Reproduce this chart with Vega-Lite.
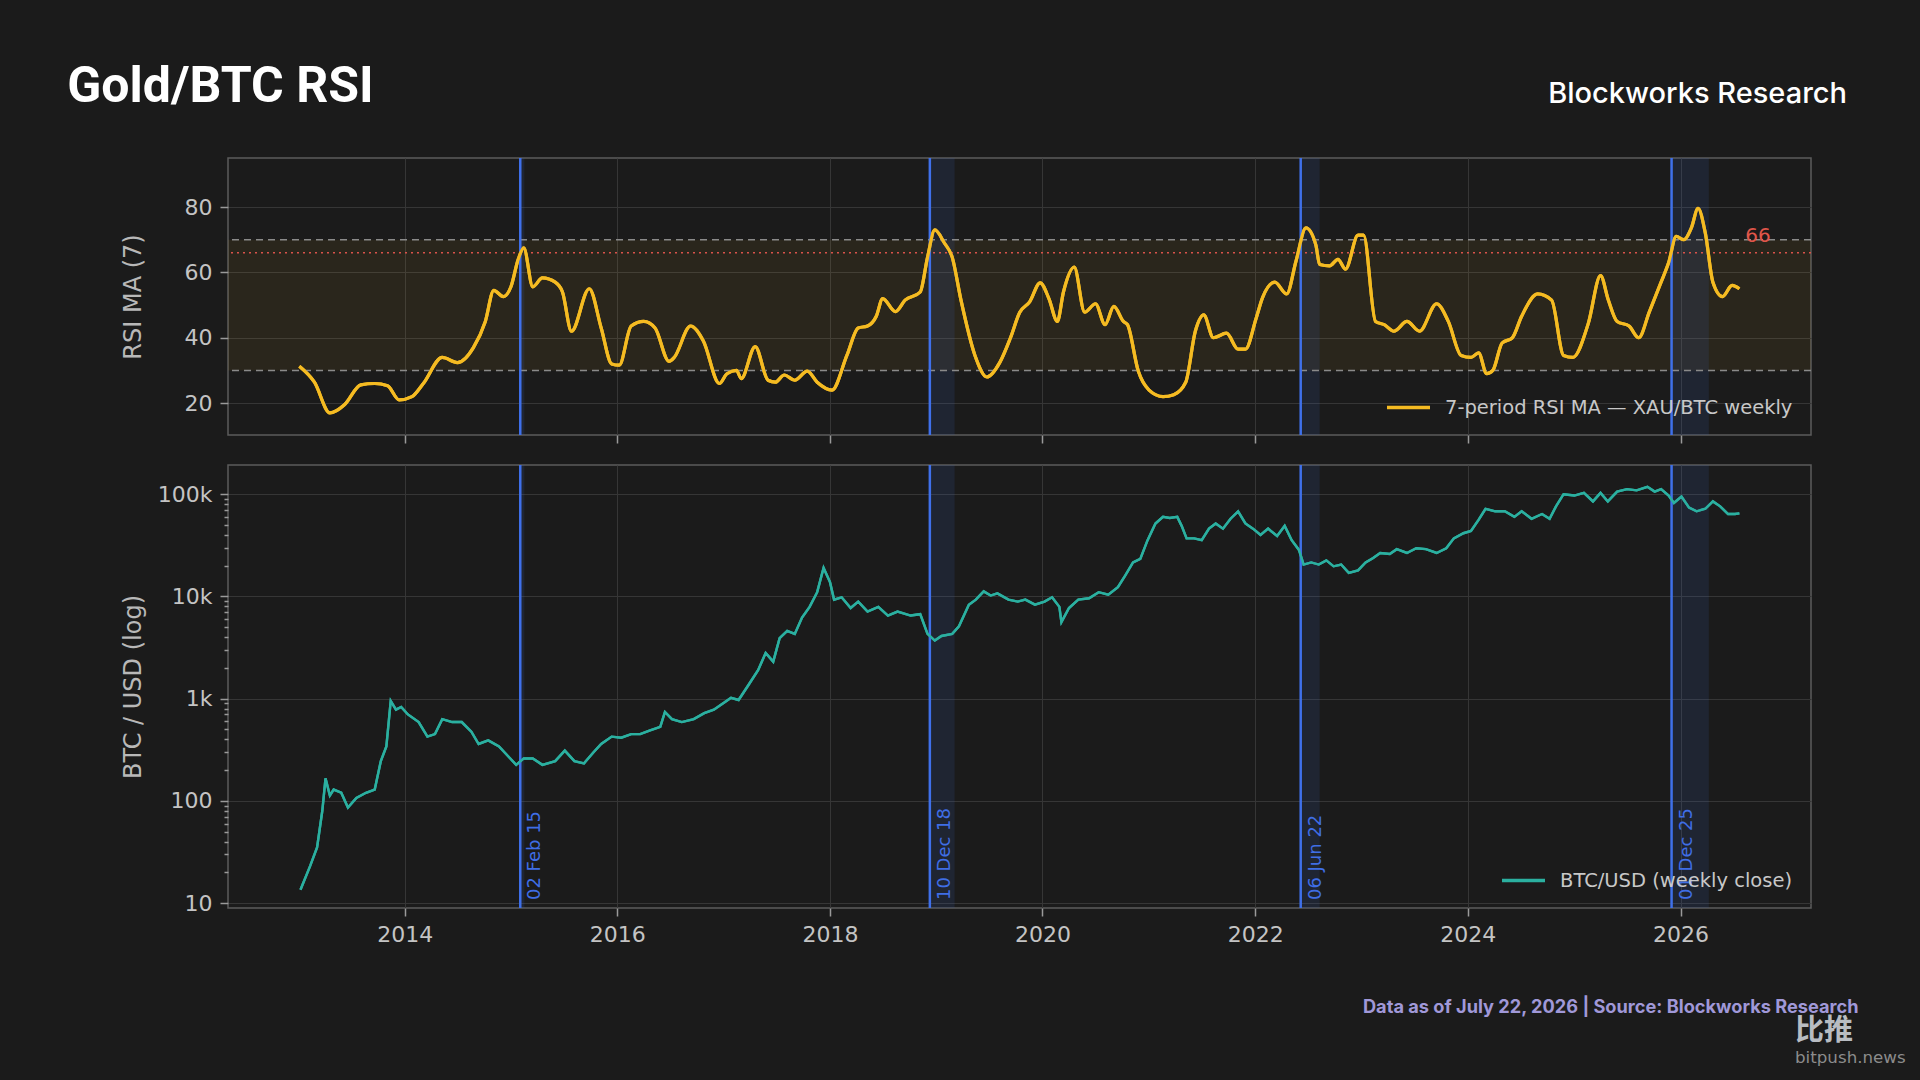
{
  "$schema": "https://vega.github.io/schema/vega-lite/v6.json",
  "background": "#1b1b1b",
  "padding": {"left": 67, "top": 62, "right": 18, "bottom": 15},
  "title": {
    "text": "Gold/BTC RSI",
    "anchor": "start",
    "font": "Roboto",
    "fontSize": 50,
    "fontWeight": "bold",
    "color": "#ffffff",
    "baseline": "alphabetic",
    "offset": 0,
    "dx": -53,
    "dy": 73
  },
  "config": {
    "view": {"stroke": "#5c5c5c", "strokeWidth": 1.5},
    "axis": {
      "labelFont": "DejaVu Sans",
      "labelFontSize": 22,
      "labelColor": "#c4c4c4",
      "titleFont": "DejaVu Sans",
      "titleFontSize": 24,
      "titleFontWeight": "normal",
      "titleColor": "#b8b8b8",
      "gridColor": "#363636",
      "gridWidth": 1,
      "tickColor": "#9a9a9a",
      "tickWidth": 1.5,
      "tickSize": 8,
      "domain": false,
      "labelPadding": 8
    },
    "axisY": {"minExtent": 70, "maxExtent": 70, "titlePadding": 13},
    "legend": {
      "orient": "bottom-right",
      "offset": 18,
      "padding": 0,
      "symbolType": "stroke",
      "symbolStrokeWidth": 3.5,
      "symbolSize": 1850,
      "labelFont": "DejaVu Sans",
      "labelFontSize": 19.5,
      "labelColor": "#c8c8c8",
      "labelOffset": 13,
      "labelLimit": 600,
      "title": null
    }
  },
  "datasets": {
    "events": [
      {"date": "2015-02-02", "end": "2015-02-16", "label": "02 Feb 15"},
      {"date": "2018-12-10", "end": "2019-03-05", "label": "10 Dec 18"},
      {"date": "2022-06-06", "end": "2022-08-10", "label": "06 Jun 22"},
      {"date": "2025-12-01", "end": "2026-04-08", "label": "01 Dec 25"}
    ],
    "rsi": [
      {"date": "2013-01-04", "rsi": 31.3}, {"date": "2013-02-25", "rsi": 26.4}, {"date": "2013-04-19", "rsi": 17.0},
      {"date": "2013-06-09", "rsi": 19.6}, {"date": "2013-08-03", "rsi": 25.6}, {"date": "2013-09-20", "rsi": 26.0},
      {"date": "2013-11-03", "rsi": 25.3}, {"date": "2013-12-13", "rsi": 21.0}, {"date": "2014-01-26", "rsi": 22.0},
      {"date": "2014-03-06", "rsi": 26.0}, {"date": "2014-05-10", "rsi": 34.0}, {"date": "2014-07-01", "rsi": 32.4},
      {"date": "2014-08-25", "rsi": 37.0}, {"date": "2014-10-05", "rsi": 45.0}, {"date": "2014-11-03", "rsi": 54.5},
      {"date": "2014-12-06", "rsi": 52.6}, {"date": "2015-01-01", "rsi": 55.6}, {"date": "2015-01-26", "rsi": 64.0},
      {"date": "2015-02-14", "rsi": 67.5}, {"date": "2015-03-17", "rsi": 55.6}, {"date": "2015-04-19", "rsi": 58.3},
      {"date": "2015-06-02", "rsi": 57.0}, {"date": "2015-06-27", "rsi": 54.0}, {"date": "2015-07-28", "rsi": 42.0},
      {"date": "2015-09-27", "rsi": 55.0}, {"date": "2015-11-07", "rsi": 43.0}, {"date": "2015-12-13", "rsi": 32.0},
      {"date": "2016-01-08", "rsi": 31.6}, {"date": "2016-02-18", "rsi": 43.6}, {"date": "2016-04-01", "rsi": 45.0},
      {"date": "2016-05-10", "rsi": 43.0}, {"date": "2016-06-27", "rsi": 32.8}, {"date": "2016-07-15", "rsi": 34.0},
      {"date": "2016-09-09", "rsi": 43.6}, {"date": "2016-10-23", "rsi": 39.0}, {"date": "2016-12-17", "rsi": 26.0},
      {"date": "2017-01-12", "rsi": 29.0}, {"date": "2017-02-14", "rsi": 30.0}, {"date": "2017-03-02", "rsi": 27.5},
      {"date": "2017-04-19", "rsi": 37.3}, {"date": "2017-06-02", "rsi": 27.0}, {"date": "2017-06-27", "rsi": 26.4},
      {"date": "2017-07-28", "rsi": 28.6}, {"date": "2017-09-02", "rsi": 27.0}, {"date": "2017-10-15", "rsi": 29.8},
      {"date": "2017-11-18", "rsi": 26.4}, {"date": "2018-01-08", "rsi": 24.0}, {"date": "2018-02-28", "rsi": 34.6},
      {"date": "2018-04-08", "rsi": 43.0}, {"date": "2018-05-10", "rsi": 43.6}, {"date": "2018-06-09", "rsi": 46.6},
      {"date": "2018-07-01", "rsi": 52.0}, {"date": "2018-08-14", "rsi": 48.0}, {"date": "2018-09-16", "rsi": 51.5},
      {"date": "2018-11-07", "rsi": 54.0}, {"date": "2018-12-02", "rsi": 64.6}, {"date": "2018-12-27", "rsi": 73.0},
      {"date": "2019-01-29", "rsi": 69.0}, {"date": "2019-02-25", "rsi": 64.6}, {"date": "2019-03-27", "rsi": 51.5},
      {"date": "2019-05-14", "rsi": 34.6}, {"date": "2019-06-24", "rsi": 28.0}, {"date": "2019-08-07", "rsi": 32.4},
      {"date": "2019-09-13", "rsi": 40.0}, {"date": "2019-10-15", "rsi": 47.8}, {"date": "2019-11-18", "rsi": 51.0},
      {"date": "2019-12-24", "rsi": 56.8}, {"date": "2020-01-23", "rsi": 52.0}, {"date": "2020-02-21", "rsi": 45.0},
      {"date": "2020-03-13", "rsi": 54.0}, {"date": "2020-04-19", "rsi": 61.6}, {"date": "2020-05-25", "rsi": 47.8},
      {"date": "2020-07-01", "rsi": 50.4}, {"date": "2020-08-03", "rsi": 44.0}, {"date": "2020-09-02", "rsi": 49.6},
      {"date": "2020-10-05", "rsi": 45.0}, {"date": "2020-10-19", "rsi": 44.0}, {"date": "2020-11-25", "rsi": 29.8},
      {"date": "2021-01-01", "rsi": 24.0}, {"date": "2021-02-18", "rsi": 22.0}, {"date": "2021-03-27", "rsi": 22.6},
      {"date": "2021-05-07", "rsi": 26.4}, {"date": "2021-06-09", "rsi": 42.0}, {"date": "2021-07-08", "rsi": 47.0},
      {"date": "2021-08-10", "rsi": 40.0}, {"date": "2021-09-24", "rsi": 41.4}, {"date": "2021-11-03", "rsi": 36.5},
      {"date": "2021-11-28", "rsi": 36.5}, {"date": "2022-01-04", "rsi": 46.0}, {"date": "2022-01-26", "rsi": 52.3},
      {"date": "2022-03-09", "rsi": 57.0}, {"date": "2022-04-19", "rsi": 53.4}, {"date": "2022-05-21", "rsi": 63.5},
      {"date": "2022-06-24", "rsi": 73.6}, {"date": "2022-07-28", "rsi": 68.4}, {"date": "2022-08-10", "rsi": 62.4},
      {"date": "2022-09-13", "rsi": 62.0}, {"date": "2022-10-12", "rsi": 64.0}, {"date": "2022-11-07", "rsi": 61.0},
      {"date": "2022-12-20", "rsi": 71.4}, {"date": "2023-01-08", "rsi": 71.4}, {"date": "2023-02-18", "rsi": 45.0},
      {"date": "2023-03-20", "rsi": 44.0}, {"date": "2023-04-22", "rsi": 42.0}, {"date": "2023-06-06", "rsi": 45.0},
      {"date": "2023-07-19", "rsi": 42.0}, {"date": "2023-09-16", "rsi": 50.4}, {"date": "2023-10-26", "rsi": 45.0},
      {"date": "2023-12-09", "rsi": 34.6}, {"date": "2024-01-12", "rsi": 34.0}, {"date": "2024-02-07", "rsi": 35.4},
      {"date": "2024-03-06", "rsi": 29.0}, {"date": "2024-03-27", "rsi": 30.0}, {"date": "2024-04-28", "rsi": 38.4},
      {"date": "2024-06-02", "rsi": 40.0}, {"date": "2024-07-04", "rsi": 46.6}, {"date": "2024-08-28", "rsi": 53.4},
      {"date": "2024-10-15", "rsi": 51.5}, {"date": "2024-11-25", "rsi": 34.6}, {"date": "2024-12-27", "rsi": 34.0},
      {"date": "2025-02-18", "rsi": 44.4}, {"date": "2025-04-01", "rsi": 59.0}, {"date": "2025-04-28", "rsi": 51.5},
      {"date": "2025-05-28", "rsi": 45.0}, {"date": "2025-07-08", "rsi": 43.6}, {"date": "2025-08-10", "rsi": 40.0},
      {"date": "2025-09-16", "rsi": 48.0}, {"date": "2025-10-26", "rsi": 57.0}, {"date": "2025-11-21", "rsi": 63.0},
      {"date": "2025-12-17", "rsi": 71.0}, {"date": "2026-01-12", "rsi": 70.0}, {"date": "2026-02-07", "rsi": 73.6},
      {"date": "2026-03-02", "rsi": 79.6}, {"date": "2026-03-27", "rsi": 72.0}, {"date": "2026-04-22", "rsi": 57.0},
      {"date": "2026-05-25", "rsi": 52.6}, {"date": "2026-06-27", "rsi": 56.0}, {"date": "2026-07-22", "rsi": 55.0}
    ],
    "btc": [
      {"date": "2013-01-08", "close": 13.5}, {"date": "2013-02-10", "close": 23}, {"date": "2013-03-06", "close": 35},
      {"date": "2013-03-24", "close": 80}, {"date": "2013-04-04", "close": 166}, {"date": "2013-04-19", "close": 113},
      {"date": "2013-05-02", "close": 129}, {"date": "2013-05-28", "close": 120}, {"date": "2013-06-20", "close": 86},
      {"date": "2013-07-19", "close": 107}, {"date": "2013-08-21", "close": 120}, {"date": "2013-09-20", "close": 129},
      {"date": "2013-10-11", "close": 245}, {"date": "2013-10-30", "close": 340}, {"date": "2013-11-14", "close": 950},
      {"date": "2013-12-02", "close": 780}, {"date": "2013-12-20", "close": 830}, {"date": "2014-01-12", "close": 700},
      {"date": "2014-02-18", "close": 590}, {"date": "2014-03-20", "close": 425}, {"date": "2014-04-15", "close": 450},
      {"date": "2014-05-10", "close": 630}, {"date": "2014-06-13", "close": 590}, {"date": "2014-07-16", "close": 590},
      {"date": "2014-08-18", "close": 475}, {"date": "2014-09-12", "close": 360}, {"date": "2014-10-15", "close": 390},
      {"date": "2014-11-21", "close": 340}, {"date": "2014-12-24", "close": 270}, {"date": "2015-01-19", "close": 225},
      {"date": "2015-02-14", "close": 260}, {"date": "2015-03-17", "close": 260}, {"date": "2015-04-19", "close": 225},
      {"date": "2015-06-02", "close": 245}, {"date": "2015-07-05", "close": 310}, {"date": "2015-08-07", "close": 245},
      {"date": "2015-09-09", "close": 233}, {"date": "2015-10-11", "close": 297}, {"date": "2015-11-07", "close": 360},
      {"date": "2015-12-13", "close": 425}, {"date": "2016-01-15", "close": 415}, {"date": "2016-02-18", "close": 450},
      {"date": "2016-03-20", "close": 450}, {"date": "2016-04-23", "close": 490}, {"date": "2016-05-28", "close": 530},
      {"date": "2016-06-13", "close": 740}, {"date": "2016-07-07", "close": 630}, {"date": "2016-08-10", "close": 590},
      {"date": "2016-09-20", "close": 630}, {"date": "2016-10-26", "close": 720}, {"date": "2016-11-28", "close": 780},
      {"date": "2017-01-04", "close": 920}, {"date": "2017-01-26", "close": 1020}, {"date": "2017-02-21", "close": 970},
      {"date": "2017-03-27", "close": 1360}, {"date": "2017-04-29", "close": 1900}, {"date": "2017-05-25", "close": 2800},
      {"date": "2017-06-20", "close": 2300}, {"date": "2017-07-12", "close": 3900}, {"date": "2017-08-07", "close": 4600},
      {"date": "2017-09-02", "close": 4300}, {"date": "2017-09-27", "close": 6200}, {"date": "2017-10-23", "close": 7900},
      {"date": "2017-11-18", "close": 11000}, {"date": "2017-12-10", "close": 19000}, {"date": "2018-01-01", "close": 13800},
      {"date": "2018-01-15", "close": 9300}, {"date": "2018-02-10", "close": 9800}, {"date": "2018-03-13", "close": 7700},
      {"date": "2018-04-08", "close": 8900}, {"date": "2018-05-10", "close": 7100}, {"date": "2018-06-16", "close": 7900},
      {"date": "2018-07-19", "close": 6500}, {"date": "2018-08-21", "close": 7100}, {"date": "2018-10-05", "close": 6500},
      {"date": "2018-11-07", "close": 6700}, {"date": "2018-12-02", "close": 4300}, {"date": "2018-12-27", "close": 3700},
      {"date": "2019-01-19", "close": 4100}, {"date": "2019-02-25", "close": 4300}, {"date": "2019-03-20", "close": 5100},
      {"date": "2019-04-23", "close": 8300}, {"date": "2019-05-17", "close": 9300}, {"date": "2019-06-13", "close": 11200},
      {"date": "2019-07-07", "close": 10200}, {"date": "2019-07-30", "close": 10700}, {"date": "2019-09-06", "close": 9300},
      {"date": "2019-10-08", "close": 8900}, {"date": "2019-11-03", "close": 9300}, {"date": "2019-12-06", "close": 8300},
      {"date": "2020-01-08", "close": 8900}, {"date": "2020-02-03", "close": 9800}, {"date": "2020-02-28", "close": 7900},
      {"date": "2020-03-06", "close": 5600}, {"date": "2020-04-01", "close": 7700}, {"date": "2020-05-03", "close": 9300},
      {"date": "2020-06-09", "close": 9600}, {"date": "2020-07-12", "close": 11000}, {"date": "2020-08-14", "close": 10400},
      {"date": "2020-09-16", "close": 12300}, {"date": "2020-10-11", "close": 16000}, {"date": "2020-11-07", "close": 21500},
      {"date": "2020-12-02", "close": 23300}, {"date": "2020-12-27", "close": 35500}, {"date": "2021-01-23", "close": 51700},
      {"date": "2021-02-18", "close": 60000}, {"date": "2021-03-13", "close": 58500}, {"date": "2021-04-08", "close": 60000},
      {"date": "2021-04-23", "close": 49000}, {"date": "2021-05-10", "close": 37000}, {"date": "2021-06-05", "close": 37000},
      {"date": "2021-07-01", "close": 35500}, {"date": "2021-07-26", "close": 46000}, {"date": "2021-08-18", "close": 51700},
      {"date": "2021-09-12", "close": 46000}, {"date": "2021-10-08", "close": 57500}, {"date": "2021-11-03", "close": 68000},
      {"date": "2021-11-28", "close": 51700}, {"date": "2021-12-24", "close": 46000}, {"date": "2022-01-19", "close": 40000},
      {"date": "2022-02-14", "close": 46000}, {"date": "2022-03-17", "close": 39000}, {"date": "2022-04-12", "close": 49000},
      {"date": "2022-05-06", "close": 35500}, {"date": "2022-05-31", "close": 28500}, {"date": "2022-06-16", "close": 20500},
      {"date": "2022-07-12", "close": 21500}, {"date": "2022-08-07", "close": 20500}, {"date": "2022-09-02", "close": 22500},
      {"date": "2022-09-27", "close": 19700}, {"date": "2022-10-23", "close": 20500}, {"date": "2022-11-18", "close": 17000},
      {"date": "2022-12-20", "close": 18000}, {"date": "2023-01-15", "close": 21500}, {"date": "2023-02-10", "close": 23800},
      {"date": "2023-03-06", "close": 26600}, {"date": "2023-04-08", "close": 26000}, {"date": "2023-05-02", "close": 29000},
      {"date": "2023-06-06", "close": 26600}, {"date": "2023-07-08", "close": 29600}, {"date": "2023-08-10", "close": 29000},
      {"date": "2023-09-16", "close": 26600}, {"date": "2023-10-19", "close": 29600}, {"date": "2023-11-14", "close": 37000},
      {"date": "2023-12-17", "close": 41500}, {"date": "2024-01-12", "close": 43700}, {"date": "2024-02-07", "close": 56000},
      {"date": "2024-03-02", "close": 72000}, {"date": "2024-04-04", "close": 68000}, {"date": "2024-05-07", "close": 68000},
      {"date": "2024-06-09", "close": 60000}, {"date": "2024-07-04", "close": 68000}, {"date": "2024-08-07", "close": 57500},
      {"date": "2024-09-12", "close": 64000}, {"date": "2024-10-08", "close": 57500}, {"date": "2024-10-30", "close": 76000},
      {"date": "2024-11-25", "close": 100000}, {"date": "2025-01-01", "close": 97000}, {"date": "2025-02-03", "close": 103000},
      {"date": "2025-03-06", "close": 85000}, {"date": "2025-04-01", "close": 103000}, {"date": "2025-04-26", "close": 85000},
      {"date": "2025-05-28", "close": 106000}, {"date": "2025-07-01", "close": 112000}, {"date": "2025-08-03", "close": 109000},
      {"date": "2025-09-09", "close": 118000}, {"date": "2025-10-04", "close": 106000}, {"date": "2025-10-26", "close": 112000},
      {"date": "2025-11-21", "close": 97000}, {"date": "2025-12-09", "close": 82000}, {"date": "2026-01-04", "close": 95000},
      {"date": "2026-01-30", "close": 74000}, {"date": "2026-02-25", "close": 68000}, {"date": "2026-03-27", "close": 72000},
      {"date": "2026-04-22", "close": 85000}, {"date": "2026-05-17", "close": 76000}, {"date": "2026-06-13", "close": 64000},
      {"date": "2026-07-07", "close": 64000}, {"date": "2026-07-22", "close": 65000}
    ]
  },
  "resolve": {"scale": {"color": "independent"}, "legend": {"color": "independent"}},
  "spacing": 18,
  "vconcat": [
    {
      "width": 1583,
      "height": 277,
      "title": {
        "text": "Blockworks Research",
        "anchor": "end",
        "frame": "group",
        "font": "Inter",
        "fontSize": 29,
        "fontWeight": 500,
        "color": "#ffffff",
        "baseline": "alphabetic",
        "offset": 25,
        "dx": 36
      },
      "layer": [
        {
          "data": {"name": "rsi"},
          "mark": {"type": "line", "strokeWidth": 3.2, "interpolate": "monotone"},
          "encoding": {
            "x": {
              "field": "date",
              "type": "temporal",
              "scale": {"domain": [{"year": 2012, "month": 5, "date": 4}, {"year": 2027, "month": 3, "date": 25}]},
              "axis": {
                "title": null,
                "labels": false,
                "grid": true,
                "ticks": true,
                "values": [{"year": 2014}, {"year": 2016}, {"year": 2018}, {"year": 2020}, {"year": 2022}, {"year": 2024}, {"year": 2026}]
              }
            },
            "y": {
              "field": "rsi",
              "type": "quantitative",
              "scale": {"domain": [10.25, 95], "nice": false, "zero": false},
              "axis": {"title": "RSI MA (7)", "values": [20, 40, 60, 80], "grid": true}
            },
            "color": {
              "datum": "7-period RSI MA — XAU/BTC weekly",
              "type": "nominal",
              "scale": {"range": ["#f5bb22"]}
            }
          }
        },
        {
          "data": {"values": [{}]},
          "mark": {"type": "rect", "color": "#f0b429", "opacity": 0.07},
          "encoding": {
            "y": {"datum": 30, "type": "quantitative"},
            "y2": {"datum": 70}
          }
        },
        {
          "data": {"name": "events"},
          "mark": {"type": "rect", "color": "#3a5fae", "opacity": 0.16},
          "encoding": {
            "x": {"field": "date", "type": "temporal"},
            "x2": {"field": "end"}
          }
        },
        {
          "data": {"values": [{"level": 30}, {"level": 70}]},
          "mark": {"type": "rule", "color": "#8a8a8a", "strokeWidth": 1.5, "strokeDash": [7, 5]},
          "encoding": {
            "y": {"field": "level", "type": "quantitative"}
          }
        },
        {
          "data": {"values": [{"level": 66}]},
          "mark": {"type": "rule", "color": "#d9534a", "strokeWidth": 1.5, "strokeDash": [2, 4]},
          "encoding": {
            "y": {"field": "level", "type": "quantitative"}
          }
        },
        {
          "data": {"name": "events"},
          "mark": {"type": "rule", "color": "#3f70ea", "strokeWidth": 2.5},
          "encoding": {
            "x": {"field": "date", "type": "temporal"}
          }
        },
        {
          "data": {"name": "rsi"},
          "mark": {"type": "line", "strokeWidth": 3.2, "interpolate": "monotone", "color": "#f5bb22"},
          "encoding": {
            "x": {"field": "date", "type": "temporal"},
            "y": {"field": "rsi", "type": "quantitative"}
          }
        },
        {
          "data": {"values": [{"label": "66"}]},
          "mark": {"type": "text", "color": "#e0564a", "font": "DejaVu Sans", "fontSize": 20, "align": "center", "baseline": "middle"},
          "encoding": {
            "x": {"datum": {"year": 2026, "month": 9, "date": 24}, "type": "temporal"},
            "y": {"datum": 71.2, "type": "quantitative"},
            "text": {"field": "label"}
          }
        }
      ]
    },
    {
      "width": 1583,
      "height": 443,
      "title": {
        "text": "比推",
        "subtitle": "bitpush.news",
        "orient": "bottom",
        "anchor": "end",
        "align": "left",
        "frame": "group",
        "font": "Noto Sans CJK SC",
        "fontSize": 29,
        "fontWeight": "bold",
        "color": "#b8bcc2",
        "subtitleFont": "DejaVu Sans",
        "subtitleFontSize": 16.7,
        "subtitleColor": "#8c8c8c",
        "subtitlePadding": 4,
        "offset": 2,
        "dx": -16
      },
      "layer": [
        {
          "data": {"name": "btc"},
          "mark": {"type": "line", "strokeWidth": 2.4},
          "encoding": {
            "x": {
              "field": "date",
              "type": "temporal",
              "scale": {"domain": [{"year": 2012, "month": 5, "date": 4}, {"year": 2027, "month": 3, "date": 25}]},
              "axis": {
                "format": "%Y",
                "grid": true,
                "values": [{"year": 2014}, {"year": 2016}, {"year": 2018}, {"year": 2020}, {"year": 2022}, {"year": 2024}, {"year": 2026}],
                "title": "Data as of July 22, 2026 | Source: Blockworks Research",
                "titleFont": "Inter",
                "titleFontSize": 18.2,
                "titleFontWeight": "bold",
                "titleColor": "#a098d8",
                "titleAnchor": "end",
                "titleAlign": "right",
                "titleBaseline": "alphabetic",
                "titleX": 1630,
                "titleY": 104
              }
            },
            "y": {
              "field": "close",
              "type": "quantitative",
              "scale": {"type": "log", "domain": [8.95, 193000], "nice": false},
              "axis": {
                "title": "BTC / USD (log)",
                "values": [10, 20, 30, 40, 50, 60, 70, 80, 90, 100, 200, 300, 400, 500, 600, 700, 800, 900, 1000, 2000, 3000, 4000, 5000, 6000, 7000, 8000, 9000, 10000, 20000, 30000, 40000, 50000, 60000, 70000, 80000, 90000, 100000],
                "labelExpr": "datum.value == 10 ? '10' : datum.value == 100 ? '100' : datum.value == 1000 ? '1k' : datum.value == 10000 ? '10k' : datum.value == 100000 ? '100k' : ''",
                "tickSize": {"condition": {"test": "indexof([10, 100, 1000, 10000, 100000], datum.value) >= 0", "value": 8}, "value": 4},
                "gridOpacity": {"condition": {"test": "indexof([10, 100, 1000, 10000, 100000], datum.value) >= 0", "value": 1}, "value": 0},
                "grid": true
              }
            },
            "color": {
              "datum": "BTC/USD (weekly close)",
              "type": "nominal",
              "scale": {"range": ["#2bb0a0"]}
            }
          }
        },
        {
          "data": {"name": "events"},
          "mark": {"type": "rect", "color": "#3a5fae", "opacity": 0.16},
          "encoding": {
            "x": {"field": "date", "type": "temporal"},
            "x2": {"field": "end"}
          }
        },
        {
          "data": {"name": "events"},
          "mark": {"type": "rule", "color": "#3f70ea", "strokeWidth": 2.5},
          "encoding": {
            "x": {"field": "date", "type": "temporal"}
          }
        },
        {
          "data": {"name": "events"},
          "mark": {"type": "text", "color": "#3f6ee6", "font": "DejaVu Sans", "fontSize": 18, "angle": 270, "align": "left", "baseline": "top", "dy": 6},
          "encoding": {
            "x": {"field": "date", "type": "temporal"},
            "y": {"datum": 10.7, "type": "quantitative"},
            "text": {"field": "label"}
          }
        },
        {
          "data": {"name": "btc"},
          "mark": {"type": "line", "strokeWidth": 2.4, "color": "#2bb0a0"},
          "encoding": {
            "x": {"field": "date", "type": "temporal"},
            "y": {"field": "close", "type": "quantitative"}
          }
        }
      ]
    }
  ]
}
